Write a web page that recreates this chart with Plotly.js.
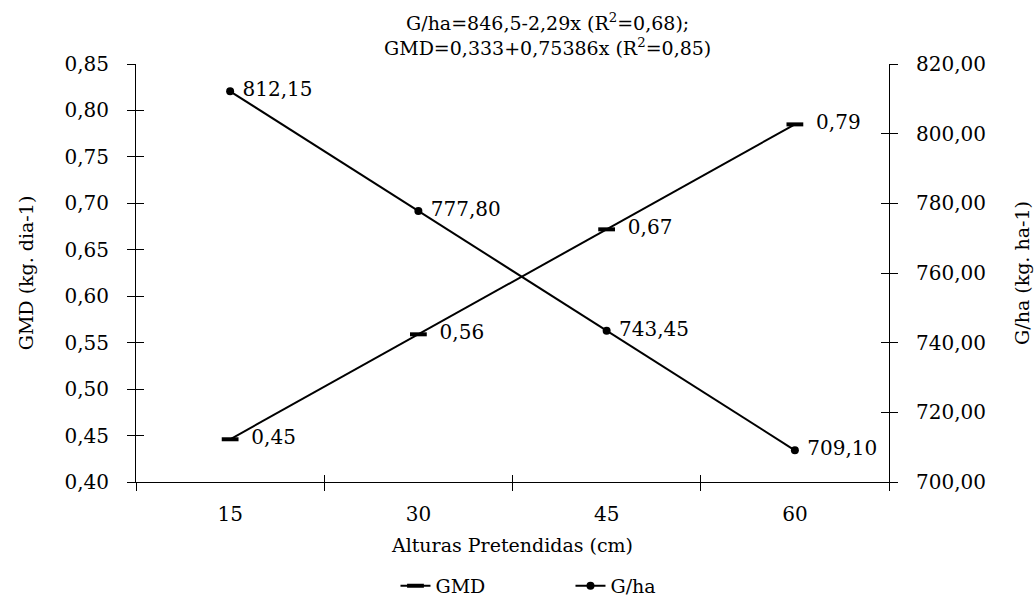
<!DOCTYPE html>
<html>
<head>
<meta charset="utf-8">
<script src="https://cdn.plot.ly/plotly-3.0.1.min.js"></script>
<style>html,body{margin:0;padding:0;background:#fff;}#chart{width:1035px;height:599px;}</style>
</head>
<body>
<div id="chart"></div>
<script>
// ---- data ----
const alturas = ['15', '30', '45', '60'];
const gmd = [0.446, 0.559, 0.672, 0.785];
const gmdLabels = ['0,45', '0,56', '0,67', '0,79'];
const gha = [812.15, 777.80, 743.45, 709.10];
const ghaLabels = ['812,15', '777,80', '743,45', '709,10'];
const boundaries = [-0.5, 0.5, 1.5, 2.5, 3.5];
const titleText = 'G/ha=846,5-2,29x (R<sup>2</sup>=0,68);<br>GMD=0,333+0,75386x (R<sup>2</sup>=0,85)';

const FONT = 'DejaVu Serif, serif';
const BLACK = '#000000';

const traces = [
  {
    name: 'GMD', x: alturas, y: gmd, xaxis: 'x', yaxis: 'y',
    mode: 'lines+markers+text',
    text: gmdLabels.map(s => '  ' + s), textposition: 'middle right',
    textfont: {family: FONT, size: 20, color: BLACK},
    line: {color: BLACK, width: 2},
    marker: {symbol: 'line-ew', size: 12, color: BLACK, line: {color: BLACK, width: 4}},
    cliponaxis: false
  },
  {
    name: 'G/ha', x: alturas, y: gha, xaxis: 'x', yaxis: 'y2',
    mode: 'lines+markers+text',
    text: ghaLabels.map(s => ' ' + s), textposition: 'middle right',
    textfont: {family: FONT, size: 20, color: BLACK},
    line: {color: BLACK, width: 2},
    marker: {symbol: 'circle', size: 8, color: BLACK},
    cliponaxis: false
  },
  // empty helper traces so the inner-tick axes are drawn
  {x: [], y: [], xaxis: 'x2', yaxis: 'y3', showlegend: false, hoverinfo: 'skip'},
  {x: [], y: [], xaxis: 'x2', yaxis: 'y4', showlegend: false, hoverinfo: 'skip'}
];

const layout = {
  width: 1035, height: 599,
  margin: {l: 136, r: 146, t: 64, b: 117},
  paper_bgcolor: '#fff', plot_bgcolor: '#fff',
  separators: ',.',
  font: {family: FONT, size: 19, color: BLACK},
  showlegend: true,
  legend: {orientation: 'h', x: 0.577, xanchor: 'center', xref: 'paper',
           y: 0.022, yref: 'container', yanchor: 'middle',
           entrywidth: 130, entrywidthmode: 'pixels',
           font: {family: FONT, size: 19, color: BLACK}},
  annotations: [{
    text: titleText, showarrow: false, xref: 'paper', yref: 'paper',
    x: 0.546, xanchor: 'center', y: 1.07, yanchor: 'middle', align: 'center',
    font: {family: FONT, size: 19, color: BLACK}
  }],
  xaxis: {
    type: 'category', range: [-0.5, 3.5], tickson: 'boundaries',
    ticks: 'outside', ticklen: 8, tickwidth: 1, tickcolor: BLACK, ticklabelstandoff: 14,
    showline: true, linecolor: BLACK, linewidth: 1, showgrid: false, zeroline: false,
    tickfont: {family: FONT, size: 20, color: BLACK},
    title: {text: 'Alturas Pretendidas (cm)', font: {family: FONT, size: 19, color: BLACK}, standoff: 13}
  },
  xaxis2: {
    overlaying: 'x', anchor: 'y', type: 'linear', range: [-0.5, 3.5],
    tickmode: 'array', tickvals: boundaries, ticks: 'inside', ticklen: 7, tickcolor: BLACK,
    showticklabels: false, showline: false, showgrid: false, zeroline: false
  },
  yaxis: {
    range: [0.40, 0.85], dtick: 0.05, tick0: 0.40, tickformat: '.2f',
    ticks: 'outside', ticklen: 8, tickcolor: BLACK, ticklabelstandoff: 14,
    showline: true, linecolor: BLACK, linewidth: 1, showgrid: false, zeroline: false,
    tickfont: {family: FONT, size: 20, color: BLACK},
    title: {text: 'GMD (kg. dia-1)', font: {family: FONT, size: 19, color: BLACK}, standoff: 25}
  },
  yaxis2: {
    overlaying: 'y', side: 'right', anchor: 'x',
    range: [700, 820], dtick: 20, tick0: 700, tickformat: '.2f',
    ticks: 'outside', ticklen: 8, tickcolor: BLACK, ticklabelstandoff: 14,
    showline: true, linecolor: BLACK, linewidth: 1, showgrid: false, zeroline: false,
    tickfont: {family: FONT, size: 20, color: BLACK},
    title: {text: 'G/ha (kg. ha-1)', font: {family: FONT, size: 19, color: BLACK}, standoff: 30}
  },
  yaxis3: {
    overlaying: 'y', side: 'left', anchor: 'x2', range: [0.40, 0.85], dtick: 0.05, tick0: 0.40,
    ticks: 'inside', ticklen: 8, tickcolor: BLACK,
    showticklabels: false, showline: false, showgrid: false, zeroline: false
  },
  yaxis4: {
    overlaying: 'y', side: 'right', anchor: 'x2', range: [700, 820], dtick: 20, tick0: 700,
    ticks: 'inside', ticklen: 8, tickcolor: BLACK,
    showticklabels: false, showline: false, showgrid: false, zeroline: false
  }
};

Plotly.newPlot('chart', traces, layout, {displayModeBar: false, staticPlot: true});
</script>
</body>
</html>
